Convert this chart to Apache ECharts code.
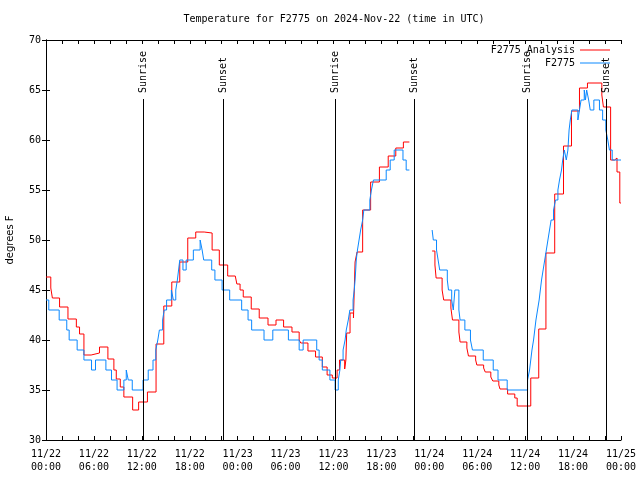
<!DOCTYPE html>
<html><head><meta charset="utf-8">
<script src="https://cdn.jsdelivr.net/npm/echarts@6/dist/echarts.min.js"></script>
<style>html,body{margin:0;padding:0;background:#fff}#c{width:640px;height:480px}</style>
</head><body><div id="c"></div>
<script>
// time values are hours since 2024-11-22 00:00 UTC
const titleText = 'Temperature for F2775 on 2024-Nov-22 (time in UTC)';
const yAxisName = 'degrees F';
const seriesNames = ['F2775 Analysis', 'F2775'];

const analysisPart1 = [
 [0.0,46.3],[0.6,45.2],[0.8,44.2],[1.7,43.3],[2.75,42.1],[3.8,41.3],[4.2,40.6],[4.75,38.5],[5.65,38.7],
 [6.7,39.3],[7.75,38.1],[8.5,37.0],[8.8,36.1],[9.3,35.3],[9.75,34.3],[10.85,33.0],[11.6,33.8],[12.7,34.8],
 [13.78,39.6],[14.75,43.4],[15.75,45.8],[16.75,47.8],[17.75,50.2],[18.75,50.8],[19.8,50.7],[20.8,49.0],
 [21.7,47.5],[22.75,46.4],[23.7,46.2],[23.9,45.6],[24.3,45.0],[24.7,44.3],[25.7,43.1],[26.7,42.2],
 [27.8,41.5],[28.8,42.0],[29.75,41.3],[30.8,40.8],[31.7,40.0],[31.9,39.7],[32.8,38.9],[33.75,38.3],
 [34.6,37.3],[35.2,36.5],[35.85,36.2],[36.45,37.0],[36.75,38.0],[37.4,37.1],[37.55,38.0],[37.65,40.7],
 [38.07,42.7],[38.5,42.2],[38.7,47.8],[38.95,48.8],[39.65,53.0],[40.65,55.8],[41.75,57.3],[42.85,58.4],
 [43.8,59.2],[44.75,59.8],[45.5,59.8]
];
const analysisPart2 = [
 [48.35,48.9],[48.7,47.5],[48.85,46.2],[49.6,45.0],[49.8,44.0],[50.7,43.2],[50.9,42.0],[51.7,40.8],
 [51.85,39.8],[52.7,39.2],[52.9,38.4],[53.8,38.0],[53.95,37.5],[54.8,37.2],[55.0,36.8],[55.7,36.3],
 [55.95,35.9],[56.7,35.5],[56.85,35.1],[57.8,34.6],[58.7,34.2],[59.0,33.4],[60.7,36.2],[61.7,41.1],
 [62.6,48.7],[63.7,54.6],[64.8,59.4],[65.8,62.9],[66.8,65.2],[67.8,65.7],[69.6,64.5],[69.8,63.3],
 [70.7,58.0],[71.2,58.2],[71.5,56.8],[71.85,53.7],[72.0,53.7]
];
const obsPart1 = [
 [0.0,44],[0.35,43],[1.65,42],[2.6,41],[2.9,40],[3.9,39],[4.75,38],[5.7,37],[6.2,38],[7.5,37],[8.2,36],
 [8.9,35],[9.75,36],[10.05,37],[10.3,36],[10.8,35],[12.15,36],[12.8,37],[13.4,38],[13.75,39],[14.0,40],
 [14.2,41],[14.6,42],[14.8,43],[15.1,44],[15.7,45],[15.95,44],[16.25,45],[16.45,46],[16.6,47],[16.75,48],
 [17.15,47],[17.55,48],[18.45,49],[19.3,50],[19.55,49],[19.75,48],[20.75,47],[21.15,46],[22.05,45],
 [23.0,44],[24.5,43],[25.3,42],[25.75,41],[27.3,40],[28.4,41],[30.35,40],[31.7,39],[32.2,40],[33.9,39],
 [34.2,38],[34.6,37],[35.55,36],[36.2,35],[36.6,36],[36.8,37],[36.9,38],[37.2,39],[37.45,40],[37.6,41],
 [37.85,42],[38.05,43],[38.45,44],[38.6,45],[38.7,46],[38.78,47],[38.85,48],[39.0,49],[39.2,50],[39.4,51],
 [39.65,52],[39.8,53],[40.55,54],[40.75,55],[41.0,56],[42.6,57],[43.1,58],[43.6,59],[44.7,58],[45.1,57],
 [45.5,57]
];
const obsPart2 = [
 [48.35,51],[48.5,50],[48.9,49],[49.1,48],[49.3,47],[50.25,46],[50.4,45],[50.8,44],[51.0,43],[51.2,45],
 [51.7,43],[51.85,42],[52.45,41],[53.15,40],[53.4,39],[54.75,38],[56.0,37],[56.6,36],[57.75,35],[60.3,36],
 [60.55,37],[60.7,38],[60.85,39],[61.05,40],[61.2,41],[61.35,42],[61.55,43],[61.75,44],[61.9,45],[62.05,46],
 [62.25,47],[62.45,48],[62.65,49],[62.85,50],[63.05,51],[63.25,52],[63.55,53],[63.8,54],[64.1,55],[64.3,56],
 [64.55,57],[64.7,58],[64.9,59],[65.15,58],[65.35,59],[65.5,61],[65.65,62],[65.85,63],[66.6,62],[66.8,63],
 [67.0,64],[67.4,65],[67.55,64],[67.7,65],[67.95,64],[68.15,63],[68.6,64],[69.3,63],[69.7,62],[70.1,61],
 [70.35,60],[70.55,59],[70.9,58],[72.0,58]
];
const dataGapHour = 45.5;
const sunriseHours = [12.18, 36.22, 60.26];
const sunsetHours = [22.18, 46.14, 70.17];

const MONO = "'DejaVu Sans Mono','Liberation Mono',monospace";
const analysisData = analysisPart1.concat([[dataGapHour, null]], analysisPart2);
const obsData = obsPart1.concat([[dataGapHour, null]], obsPart2);

function fmtX(v) {
  if (v % 6 !== 0) return '';
  const d = 22 + Math.floor(v / 24);
  const hh = v % 24;
  return '11/' + d + '\n' + String(hh).padStart(2, '0') + ':00';
}
const axisLine = {show: true, lineStyle: {color: '#000', width: 1}};
const tick = {show: true, inside: true, length: 4, lineStyle: {color: '#000', width: 1}};
const labelStyle = {color: '#000', fontFamily: MONO, fontSize: 10};

const chart = echarts.init(document.getElementById('c'), null, {renderer: 'canvas'});
const sunLines = sunriseHours.concat(sunsetHours).map(h => [{coord: [h, 30]}, {coord: [h, 64.1]}]);

chart.setOption({
  animation: false,
  backgroundColor: '#fff',
  title: {text: titleText, left: 334, textAlign: 'center', top: 14, padding: 0,
    textStyle: {fontFamily: MONO, fontSize: 10, fontWeight: 'normal', color: '#000'}},
  legend: {data: seriesNames, orient: 'vertical', right: 30, top: 44, align: 'right', padding: 0,
    icon: 'rect', itemWidth: 30, itemHeight: 1, itemGap: 1, textStyle: {...labelStyle, lineHeight: 12},
    selectedMode: false},
  grid: {left: 46, right: 19, top: 40, bottom: 40, containLabel: false, outerBoundsMode: 'none'},
  xAxis: [
    {type: 'value', min: 0, max: 72, interval: 2, axisLine, axisTick: tick, splitLine: {show: false},
     axisLabel: {formatter: fmtX, margin: 8, lineHeight: 13, ...labelStyle}},
    {type: 'value', position: 'top', min: 0, max: 72, interval: 2, axisLine, axisTick: tick,
     splitLine: {show: false}, axisLabel: {show: false}}
  ],
  yAxis: [
    {type: 'value', min: 30, max: 70, interval: 5, axisLine, axisTick: tick, splitLine: {show: false},
     axisLabel: {margin: 5, ...labelStyle},
     name: yAxisName, nameLocation: 'middle', nameRotate: 90, nameGap: 31,
     nameTextStyle: {fontFamily: "'DejaVu Sans',sans-serif", fontSize: 10, color: '#000'}},
    {type: 'value', position: 'right', min: 30, max: 70, interval: 5, axisLine, axisTick: tick,
     splitLine: {show: false}, axisLabel: {show: false}}
  ],
  series: [
    {name: seriesNames[0], type: 'line', step: 'end', data: analysisData, symbol: 'none', showSymbol: false,
     connectNulls: false, lineStyle: {color: '#ff0000', width: 1}, itemStyle: {color: '#ff0000'},
     markLine: {silent: true, symbol: ['none', 'none'], label: {show: false},
       lineStyle: {color: '#000', type: 'solid', width: 1}, data: sunLines}},
    {name: seriesNames[1], type: 'line', step: 'end', data: obsData, symbol: 'none', showSymbol: false,
     connectNulls: false, lineStyle: {color: '#0a88ff', width: 1}, itemStyle: {color: '#0a88ff'}}
  ]
});

const sunLabels = [];
sunriseHours.forEach(h => sunLabels.push([h, 'Sunrise']));
sunsetHours.forEach(h => sunLabels.push([h, 'Sunset']));
const graphics = sunLabels.map(([h, t]) => {
  const p = chart.convertToPixel({xAxisIndex: 0, yAxisIndex: 0}, [h, 64.7]);
  return {type: 'text', x: p[0], y: p[1], rotation: Math.PI / 2, silent: true, z: 10,
    style: {text: t, font: '10px ' + MONO, fill: '#000', align: 'left', verticalAlign: 'middle',
      textAlign: 'left', textVerticalAlign: 'middle'}};
});
chart.setOption({graphic: graphics});
</script>
</body></html>
